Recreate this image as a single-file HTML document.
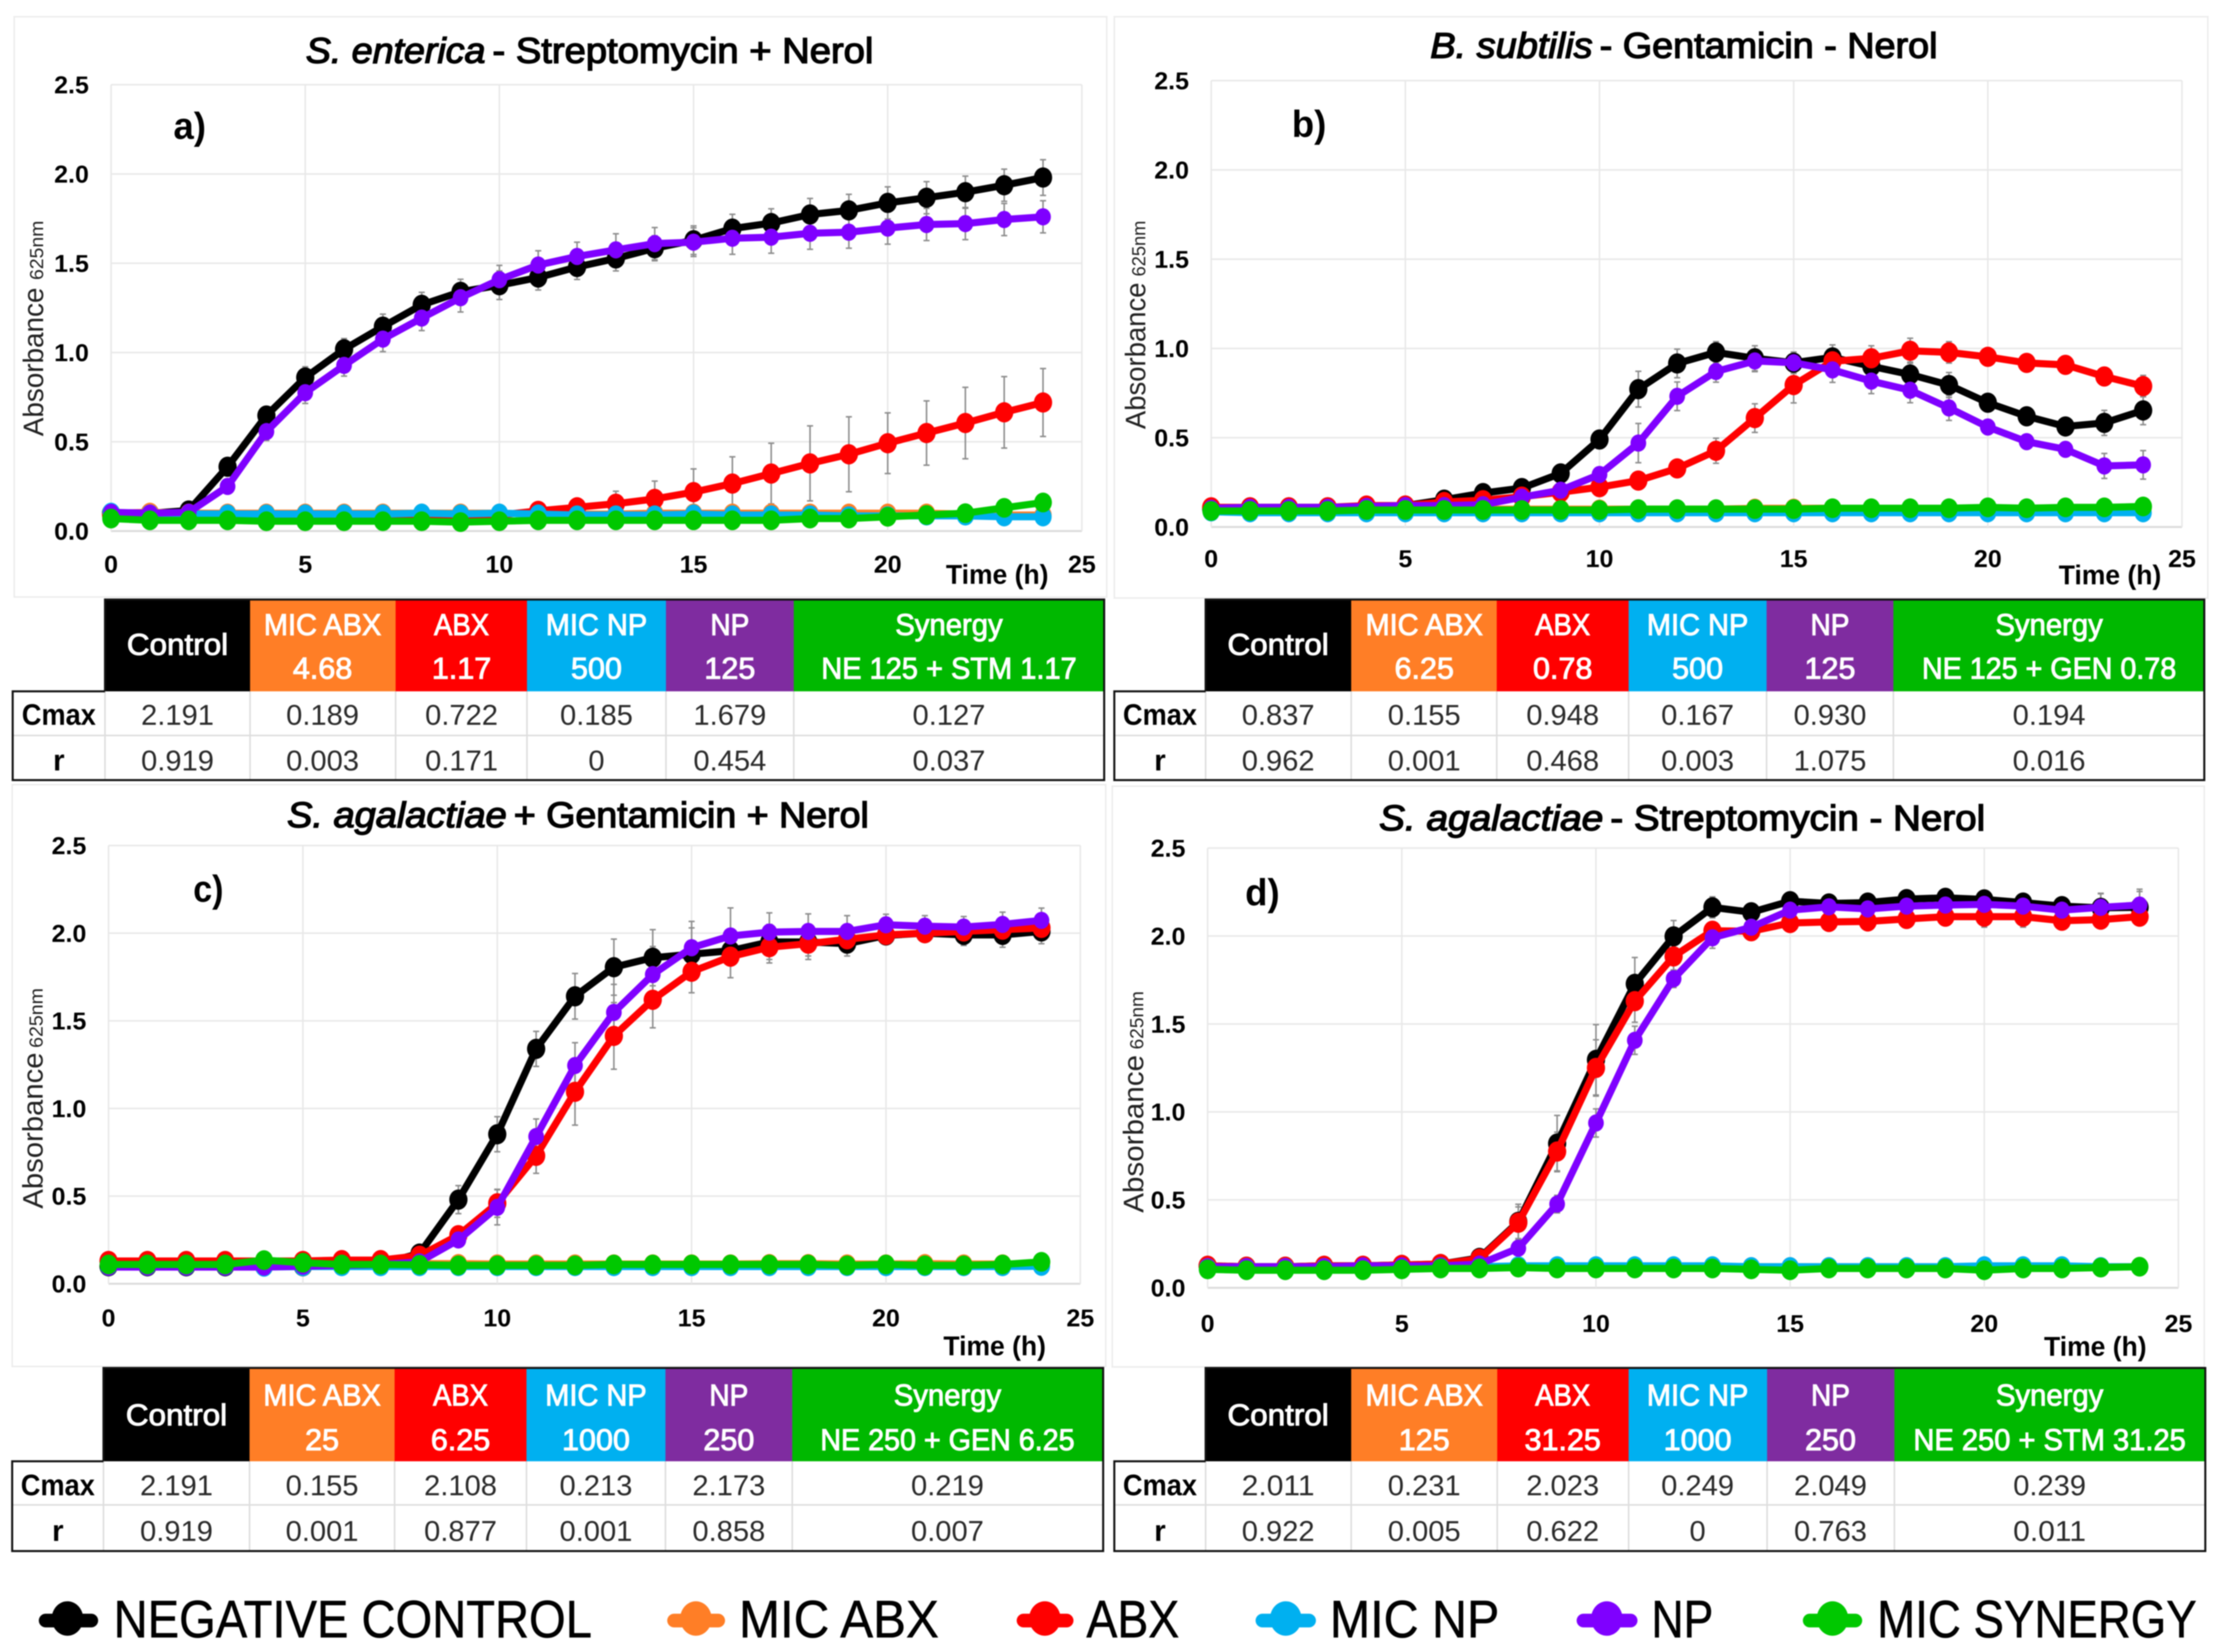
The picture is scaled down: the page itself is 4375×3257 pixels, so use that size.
<!DOCTYPE html>
<html lang="en">
<head>
<meta charset="utf-8">
<title>Growth curves with antibiotic and nerol synergy</title>
<style>
html,body{margin:0;padding:0;background:#fff;}
svg{display:block;filter:blur(1.1px);}
text{font-family:"Liberation Sans",sans-serif;}
.b{font-weight:bold;fill:#000;}
.t{fill:#000;stroke:#000;stroke-width:2.4;}
.i{font-style:italic;}
.h{fill:#fff;stroke:#fff;stroke-width:1.8;text-anchor:middle;}
.c{fill:#2a2a2a;text-anchor:middle;}
.l{fill:#000;stroke:#000;stroke-width:1;}
.y{fill:#222;}
</style>
</head>
<body>
<svg id="fig" xmlns="http://www.w3.org/2000/svg" width="4375" height="3257" viewBox="0 0 4375 3257">
<rect width="4375" height="3257" fill="#fff"/>

<!-- Panel frames -->
<rect x="28" y="33" width="2154" height="1144" fill="#fff" stroke="#ececec" stroke-width="3"/>
<rect x="2197" y="33" width="2156" height="1146" fill="#fff" stroke="#ececec" stroke-width="3"/>
<rect x="24" y="1547" width="2156" height="1147" fill="#fff" stroke="#ececec" stroke-width="3"/>
<rect x="2193" y="1550" width="2153" height="1145" fill="#fff" stroke="#ececec" stroke-width="3"/>

<g id="plots"></g>

<!-- Titles -->
<text class="t i cal" data-s="78" x="603" y="124" textLength="354">S. enterica</text>
<text class="t cal" data-s="78" x="971" y="124" textLength="751">- Streptomycin + Nerol</text>
<text class="t i cal" data-s="78" x="2820" y="114" textLength="320">B. subtilis</text>
<text class="t cal" data-s="78" x="3154" y="114" textLength="666">- Gentamicin - Nerol</text>
<text class="t i cal" data-s="78" x="566" y="1631" textLength="433">S. agalactiae</text>
<text class="t cal" data-s="78" x="1013" y="1631" textLength="700">+ Gentamicin + Nerol</text>
<text class="t i cal" data-s="78" x="2719" y="1637" textLength="442">S. agalactiae</text>
<text class="t cal" data-s="78" x="3175" y="1637" textLength="739">- Streptomycin - Nerol</text>

<!-- Panel letters -->
<text class="b cal" data-s="82" x="342" y="274">a)</text>
<text class="b cal" data-s="82" x="2547" y="270">b)</text>
<text class="b cal" data-s="82" x="381" y="1778">c)</text>
<text class="b cal" data-s="82" x="2455" y="1785">d)</text>

<!-- Axis titles -->
<text class="b cal" data-s="60" x="1865" y="1151">Time (h)</text>
<text class="b cal" data-s="60" x="4059" y="1152">Time (h)</text>
<text class="b cal" data-s="60" x="1860" y="2672">Time (h)</text>
<text class="b cal" data-s="60" x="4030" y="2673">Time (h)</text>

<text class="y" font-size="56" textLength="293" lengthAdjust="spacingAndGlyphs" transform="translate(85,860) rotate(-90)">Absorbance</text>
<text class="y" font-size="37" textLength="117" lengthAdjust="spacingAndGlyphs" transform="translate(85,552) rotate(-90)">625nm</text>
<text class="y" font-size="56" textLength="289" lengthAdjust="spacingAndGlyphs" transform="translate(2258,846) rotate(-90)">Absorbance</text>
<text class="y" font-size="37" textLength="110" lengthAdjust="spacingAndGlyphs" transform="translate(2258,545) rotate(-90)">625nm</text>
<text class="y" font-size="56" textLength="308" lengthAdjust="spacingAndGlyphs" transform="translate(84,2383) rotate(-90)">Absorbance</text>
<text class="y" font-size="37" textLength="118" lengthAdjust="spacingAndGlyphs" transform="translate(84,2066) rotate(-90)">625nm</text>
<text class="y" font-size="56" textLength="311" lengthAdjust="spacingAndGlyphs" transform="translate(2254,2391) rotate(-90)">Absorbance</text>
<text class="y" font-size="37" textLength="115" lengthAdjust="spacingAndGlyphs" transform="translate(2254,2069) rotate(-90)">625nm</text>

<!-- Table A -->
<g>
<rect x="207" y="1182" width="286" height="181" fill="#000"/>
<rect x="493" y="1182" width="287" height="181" fill="#FF7E26"/>
<rect x="780" y="1182" width="259" height="181" fill="#FF0000"/>
<rect x="1039" y="1182" width="274" height="181" fill="#00B0F0"/>
<rect x="1313" y="1182" width="252" height="181" fill="#7F2CA0"/>
<rect x="1565" y="1182" width="612" height="181" fill="#00B800"/>
<path d="M25 1450H2177M207 1363V1538M493 1363V1538M780 1363V1538M1039 1363V1538M1313 1363V1538M1565 1363V1538" stroke="#ddd" stroke-width="3" fill="none"/>
<path d="M207 1363V1182H2177V1538H25V1363H207" stroke="#111" stroke-width="4" fill="none"/>
<text class="h cal" data-s="66" x="350" y="1291">Control</text>
<text class="h cal" data-s="66" x="636" y="1252">MIC ABX</text>
<text class="h cal" data-s="66" x="636" y="1338">4.68</text>
<text class="h cal" data-s="66" x="910" y="1252">ABX</text>
<text class="h cal" data-s="66" x="910" y="1338">1.17</text>
<text class="h cal" data-s="66" x="1176" y="1252">MIC NP</text>
<text class="h cal" data-s="66" x="1176" y="1338">500</text>
<text class="h cal" data-s="66" x="1439" y="1252">NP</text>
<text class="h cal" data-s="66" x="1439" y="1338">125</text>
<text class="h cal" data-s="66" x="1871" y="1252">Synergy</text>
<text class="h cal" data-s="66" x="1871" y="1338">NE 125 + STM 1.17</text>
<text class="b cal" style="text-anchor:middle" data-s="65" x="116" y="1429">Cmax</text>
<text class="b cal" style="text-anchor:middle" data-s="65" x="116" y="1519">r</text>
<text class="c cal" data-s="63" x="350" y="1429">2.191</text>
<text class="c cal" data-s="63" x="636" y="1429">0.189</text>
<text class="c cal" data-s="63" x="910" y="1429">0.722</text>
<text class="c cal" data-s="63" x="1176" y="1429">0.185</text>
<text class="c cal" data-s="63" x="1439" y="1429">1.679</text>
<text class="c cal" data-s="63" x="1871" y="1429">0.127</text>
<text class="c cal" data-s="63" x="350" y="1519">0.919</text>
<text class="c cal" data-s="63" x="636" y="1519">0.003</text>
<text class="c cal" data-s="63" x="910" y="1519">0.171</text>
<text class="c cal" data-s="63" x="1176" y="1519">0</text>
<text class="c cal" data-s="63" x="1439" y="1519">0.454</text>
<text class="c cal" data-s="63" x="1871" y="1519">0.037</text>
</g>

<!-- Table B -->
<g>
<rect x="2377" y="1182" width="287" height="181" fill="#000"/>
<rect x="2664" y="1182" width="287" height="181" fill="#FF7E26"/>
<rect x="2951" y="1182" width="260" height="181" fill="#FF0000"/>
<rect x="3211" y="1182" width="272" height="181" fill="#00B0F0"/>
<rect x="3483" y="1182" width="250" height="181" fill="#7F2CA0"/>
<rect x="3733" y="1182" width="613" height="181" fill="#00B800"/>
<path d="M2197 1450H4346M2377 1363V1538M2664 1363V1538M2951 1363V1538M3211 1363V1538M3483 1363V1538M3733 1363V1538" stroke="#ddd" stroke-width="3" fill="none"/>
<path d="M2377 1363V1182H4346V1538H2197V1363H2377" stroke="#111" stroke-width="4" fill="none"/>
<text class="h cal" data-s="66" x="2520" y="1291">Control</text>
<text class="h cal" data-s="66" x="2808" y="1252">MIC ABX</text>
<text class="h cal" data-s="66" x="2808" y="1338">6.25</text>
<text class="h cal" data-s="66" x="3081" y="1252">ABX</text>
<text class="h cal" data-s="66" x="3081" y="1338">0.78</text>
<text class="h cal" data-s="66" x="3347" y="1252">MIC NP</text>
<text class="h cal" data-s="66" x="3347" y="1338">500</text>
<text class="h cal" data-s="66" x="3608" y="1252">NP</text>
<text class="h cal" data-s="66" x="3608" y="1338">125</text>
<text class="h cal" data-s="66" x="4040" y="1252">Synergy</text>
<text class="h cal" data-s="66" x="4040" y="1338">NE 125 + GEN 0.78</text>
<text class="b cal" style="text-anchor:middle" data-s="65" x="2287" y="1429">Cmax</text>
<text class="b cal" style="text-anchor:middle" data-s="65" x="2287" y="1519">r</text>
<text class="c cal" data-s="63" x="2520" y="1429">0.837</text>
<text class="c cal" data-s="63" x="2808" y="1429">0.155</text>
<text class="c cal" data-s="63" x="3081" y="1429">0.948</text>
<text class="c cal" data-s="63" x="3347" y="1429">0.167</text>
<text class="c cal" data-s="63" x="3608" y="1429">0.930</text>
<text class="c cal" data-s="63" x="4040" y="1429">0.194</text>
<text class="c cal" data-s="63" x="2520" y="1519">0.962</text>
<text class="c cal" data-s="63" x="2808" y="1519">0.001</text>
<text class="c cal" data-s="63" x="3081" y="1519">0.468</text>
<text class="c cal" data-s="63" x="3347" y="1519">0.003</text>
<text class="c cal" data-s="63" x="3608" y="1519">1.075</text>
<text class="c cal" data-s="63" x="4040" y="1519">0.016</text>
</g>

<!-- Table C -->
<g>
<rect x="204" y="2697" width="288" height="184" fill="#000"/>
<rect x="492" y="2697" width="286" height="184" fill="#FF7E26"/>
<rect x="778" y="2697" width="260" height="184" fill="#FF0000"/>
<rect x="1038" y="2697" width="274" height="184" fill="#00B0F0"/>
<rect x="1312" y="2697" width="250" height="184" fill="#7F2CA0"/>
<rect x="1562" y="2697" width="613" height="184" fill="#00B800"/>
<path d="M24 2967H2175M204 2881V3058M492 2881V3058M778 2881V3058M1038 2881V3058M1312 2881V3058M1562 2881V3058" stroke="#ddd" stroke-width="3" fill="none"/>
<path d="M204 2881V2697H2175V3058H24V2881H204" stroke="#111" stroke-width="4" fill="none"/>
<text class="h cal" data-s="66" x="348" y="2810">Control</text>
<text class="h cal" data-s="66" x="635" y="2771">MIC ABX</text>
<text class="h cal" data-s="66" x="635" y="2859">25</text>
<text class="h cal" data-s="66" x="908" y="2771">ABX</text>
<text class="h cal" data-s="66" x="908" y="2859">6.25</text>
<text class="h cal" data-s="66" x="1175" y="2771">MIC NP</text>
<text class="h cal" data-s="66" x="1175" y="2859">1000</text>
<text class="h cal" data-s="66" x="1437" y="2771">NP</text>
<text class="h cal" data-s="66" x="1437" y="2859">250</text>
<text class="h cal" data-s="66" x="1868" y="2771">Synergy</text>
<text class="h cal" data-s="66" x="1868" y="2859">NE 250 + GEN 6.25</text>
<text class="b cal" style="text-anchor:middle" data-s="65" x="114" y="2948">Cmax</text>
<text class="b cal" style="text-anchor:middle" data-s="65" x="114" y="3038">r</text>
<text class="c cal" data-s="63" x="348" y="2948">2.191</text>
<text class="c cal" data-s="63" x="635" y="2948">0.155</text>
<text class="c cal" data-s="63" x="908" y="2948">2.108</text>
<text class="c cal" data-s="63" x="1175" y="2948">0.213</text>
<text class="c cal" data-s="63" x="1437" y="2948">2.173</text>
<text class="c cal" data-s="63" x="1868" y="2948">0.219</text>
<text class="c cal" data-s="63" x="348" y="3038">0.919</text>
<text class="c cal" data-s="63" x="635" y="3038">0.001</text>
<text class="c cal" data-s="63" x="908" y="3038">0.877</text>
<text class="c cal" data-s="63" x="1175" y="3038">0.001</text>
<text class="c cal" data-s="63" x="1437" y="3038">0.858</text>
<text class="c cal" data-s="63" x="1868" y="3038">0.007</text>
</g>

<!-- Table D -->
<g>
<rect x="2377" y="2697" width="287" height="184" fill="#000"/>
<rect x="2664" y="2697" width="288" height="184" fill="#FF7E26"/>
<rect x="2952" y="2697" width="259" height="184" fill="#FF0000"/>
<rect x="3211" y="2697" width="273" height="184" fill="#00B0F0"/>
<rect x="3484" y="2697" width="251" height="184" fill="#7F2CA0"/>
<rect x="3735" y="2697" width="613" height="184" fill="#00B800"/>
<path d="M2197 2967H4348M2377 2881V3058M2664 2881V3058M2952 2881V3058M3211 2881V3058M3484 2881V3058M3735 2881V3058" stroke="#ddd" stroke-width="3" fill="none"/>
<path d="M2377 2881V2697H4348V3058H2197V2881H2377" stroke="#111" stroke-width="4" fill="none"/>
<text class="h cal" data-s="66" x="2520" y="2810">Control</text>
<text class="h cal" data-s="66" x="2808" y="2771">MIC ABX</text>
<text class="h cal" data-s="66" x="2808" y="2859">125</text>
<text class="h cal" data-s="66" x="3081" y="2771">ABX</text>
<text class="h cal" data-s="66" x="3081" y="2859">31.25</text>
<text class="h cal" data-s="66" x="3347" y="2771">MIC NP</text>
<text class="h cal" data-s="66" x="3347" y="2859">1000</text>
<text class="h cal" data-s="66" x="3609" y="2771">NP</text>
<text class="h cal" data-s="66" x="3609" y="2859">250</text>
<text class="h cal" data-s="66" x="4041" y="2771">Synergy</text>
<text class="h cal" data-s="66" x="4041" y="2859">NE 250 + STM 31.25</text>
<text class="b cal" style="text-anchor:middle" data-s="65" x="2287" y="2948">Cmax</text>
<text class="b cal" style="text-anchor:middle" data-s="65" x="2287" y="3038">r</text>
<text class="c cal" data-s="63" x="2520" y="2948">2.011</text>
<text class="c cal" data-s="63" x="2808" y="2948">0.231</text>
<text class="c cal" data-s="63" x="3081" y="2948">2.023</text>
<text class="c cal" data-s="63" x="3347" y="2948">0.249</text>
<text class="c cal" data-s="63" x="3609" y="2948">2.049</text>
<text class="c cal" data-s="63" x="4041" y="2948">0.239</text>
<text class="c cal" data-s="63" x="2520" y="3038">0.922</text>
<text class="c cal" data-s="63" x="2808" y="3038">0.005</text>
<text class="c cal" data-s="63" x="3081" y="3038">0.622</text>
<text class="c cal" data-s="63" x="3347" y="3038">0</text>
<text class="c cal" data-s="63" x="3609" y="3038">0.763</text>
<text class="c cal" data-s="63" x="4041" y="3038">0.011</text>
</g>

<!-- Legend -->
<g>
<g>
<path d="M90 3195H180" stroke="#000" stroke-width="27" stroke-linecap="round"/>
<ellipse cx="133" cy="3191" rx="31" ry="34" fill="#000"/>
<text class="l cal" data-s="116" x="224" y="3228" textLength="943">NEGATIVE CONTROL</text>
</g>
<g>
<path d="M1329 3195H1416" stroke="#FF7E26" stroke-width="27" stroke-linecap="round"/>
<ellipse cx="1372" cy="3191" rx="31" ry="34" fill="#FF7E26"/>
<text class="l cal" data-s="116" x="1457" y="3228" textLength="394">MIC ABX</text>
</g>
<g>
<path d="M2018 3195H2103" stroke="#FF0000" stroke-width="27" stroke-linecap="round"/>
<ellipse cx="2060" cy="3191" rx="31" ry="34" fill="#FF0000"/>
<text class="l cal" data-s="116" x="2142" y="3228" textLength="183">ABX</text>
</g>
<g>
<path d="M2489 3195H2581" stroke="#00B0F0" stroke-width="27" stroke-linecap="round"/>
<ellipse cx="2535" cy="3191" rx="31" ry="34" fill="#00B0F0"/>
<text class="l cal" data-s="116" x="2622" y="3228" textLength="334">MIC NP</text>
</g>
<g>
<path d="M3122 3195H3215" stroke="#7F00FF" stroke-width="27" stroke-linecap="round"/>
<ellipse cx="3168" cy="3191" rx="31" ry="34" fill="#7F00FF"/>
<text class="l cal" data-s="116" x="3256" y="3228" textLength="122">NP</text>
</g>
<g>
<path d="M3568 3195H3658" stroke="#00C800" stroke-width="27" stroke-linecap="round"/>
<ellipse cx="3613" cy="3191" rx="31" ry="34" fill="#00C800"/>
<text class="l cal" data-s="116" x="3701" y="3228" textLength="630">MIC SYNERGY</text>
</g>
</g>
</svg>

<script>
// ---- Chart data ----
const hours = [0,1,2,3,4,5,6,7,8,9,10,11,12,13,14,15,16,17,18,19,20,21,22,23,24];
const xTickLabels = ["0","5","10","15","20","25"];
const xTickValues = [0,5,10,15,20,25];
const yTickLabels = ["0.0","0.5","1.0","1.5","2.0","2.5"];
const yTickValues = [0,0.5,1,1.5,2,2.5];

// Panel a
const aControl = [.10,.10,.115,.36,.647,.86,1.018,1.145,1.267,1.34,1.377,1.42,1.479,1.527,1.584,1.629,1.694,1.725,1.773,1.796,1.838,1.867,1.898,1.937,1.98];
const aMicAbx  = [.10,.105,.10,.10,.10,.10,.10,.10,.10,.10,.10,.095,.095,.095,.10,.10,.10,.10,.10,.10,.10,.10,.095,.09,.09];
const aAbx     = [.09,.09,.085,.08,.08,.08,.08,.08,.08,.085,.09,.113,.133,.153,.18,.218,.266,.322,.379,.43,.492,.549,.605,.665,.72];
const aMicNp   = [.105,.095,.095,.095,.095,.095,.095,.095,.10,.095,.10,.095,.09,.09,.09,.095,.09,.09,.09,.085,.085,.085,.085,.08,.08];
const aNp      = [.105,.10,.105,.25,.557,.775,.928,1.075,1.193,1.307,1.408,1.49,1.538,1.575,1.61,1.618,1.64,1.646,1.668,1.674,1.697,1.717,1.722,1.745,1.76];
const aSynergy = [.07,.06,.06,.06,.055,.055,.055,.055,.055,.05,.055,.06,.06,.06,.06,.06,.06,.06,.07,.07,.08,.09,.10,.13,.16];
const aControlErr = [0,0,.01,.03,.05,.06,.06,.07,.07,.07,.08,.07,.07,.07,.07,.08,.08,.08,.09,.09,.09,.09,.09,.09,.10];
const aAbxErr     = [0,0,0,0,0,0,0,0,0,0,.01,.02,.03,.07,.10,.13,.15,.17,.21,.21,.17,.18,.20,.20,.19];
const aNpErr      = [0,0,.01,.02,.05,.06,.06,.07,.07,.08,.08,.08,.08,.09,.09,.08,.09,.09,.09,.09,.09,.09,.09,.09,.09];

// Panel b
const bControl = [.10,.11,.11,.11,.115,.12,.153,.19,.218,.30,.49,.772,.916,.978,.945,.92,.95,.90,.854,.795,.696,.62,.563,.583,.653];
const bMicAbx  = [.10,.10,.10,.10,.10,.10,.10,.10,.10,.10,.10,.10,.10,.10,.105,.105,.105,.105,.105,.105,.105,.105,.105,.105,.105];
const bAbx     = [.11,.11,.11,.11,.12,.12,.14,.15,.17,.195,.223,.26,.328,.427,.61,.795,.928,.945,.987,.978,.953,.919,.908,.843,.789];
const bMicNp   = [.085,.08,.08,.08,.08,.08,.08,.08,.08,.08,.08,.08,.08,.08,.08,.08,.08,.08,.08,.08,.08,.08,.08,.08,.08];
const bNp      = [.105,.11,.11,.11,.115,.12,.12,.125,.167,.206,.294,.47,.732,.871,.93,.92,.88,.817,.766,.667,.56,.478,.435,.342,.348];
const bSynergy = [.09,.09,.09,.09,.095,.095,.095,.095,.095,.095,.095,.10,.10,.10,.10,.10,.105,.105,.105,.105,.11,.105,.11,.11,.115];
const bControlErr = [0,0,0,0,0,.01,.01,.01,.02,.03,.05,.10,.08,.06,.07,.06,.07,.07,.07,.07,.05,.04,.04,.07,.08];
const bAbxErr     = [0,0,0,0,0,0,.01,.01,.02,.03,.03,.04,.04,.07,.08,.10,.05,.07,.07,.06,.05,.03,.03,.05,.06];
const bNpErr      = [0,0,0,0,0,0,0,.01,.01,.02,.04,.11,.08,.06,.06,.05,.07,.07,.07,.07,.04,.03,.03,.07,.08];

// Panel c
const cControl = [.10,.10,.10,.10,.10,.10,.105,.115,.172,.48,.853,1.34,1.64,1.806,1.86,1.88,1.90,1.95,1.95,1.94,1.987,2.0,1.99,1.99,2.01];
const cMicAbx  = [.115,.115,.115,.115,.115,.115,.115,.115,.115,.115,.113,.113,.113,.113,.113,.113,.113,.115,.115,.113,.113,.115,.113,.113,.115];
const cAbx     = [.13,.13,.13,.13,.13,.13,.135,.135,.16,.277,.459,.73,1.095,1.414,1.62,1.78,1.866,1.92,1.94,1.965,1.99,2.0,2.01,2.02,2.03];
const cMicNp   = [.10,.10,.10,.10,.095,.098,.098,.098,.098,.098,.098,.098,.098,.098,.098,.098,.098,.098,.098,.098,.098,.098,.098,.098,.10];
const cNp      = [.095,.095,.095,.095,.095,.10,.105,.11,.125,.25,.436,.84,1.245,1.548,1.764,1.917,1.984,2.006,2.01,2.01,2.048,2.04,2.035,2.05,2.073];
const cSynergy = [.11,.11,.11,.11,.135,.12,.11,.11,.108,.105,.105,.105,.105,.11,.11,.11,.11,.11,.11,.105,.11,.105,.105,.11,.125];
const cControlErr = [0,0,0,0,0,0,0,0,.01,.08,.10,.10,.13,.16,.16,.15,.06,.10,.08,.07,.05,.05,.06,.07,.07];
const cAbxErr     = [0,0,0,0,0,0,0,0,.01,.03,.08,.10,.19,.19,.16,.12,.12,.09,.09,.07,.05,.05,.05,.05,.05];
const cNpErr      = [0,0,0,0,0,0,0,0,.01,.03,.10,.10,.13,.16,.16,.15,.16,.11,.10,.09,.06,.06,.06,.07,.07];

// Panel d
const dControl = [.125,.12,.12,.125,.125,.13,.135,.17,.375,.82,1.296,1.728,1.998,2.163,2.135,2.198,2.185,2.19,2.21,2.217,2.208,2.19,2.17,2.16,2.163];
const dMicAbx  = [.12,.12,.12,.12,.12,.12,.12,.12,.12,.12,.12,.12,.12,.12,.12,.12,.12,.12,.12,.12,.12,.12,.12,.12,.12];
const dAbx     = [.125,.12,.12,.125,.125,.13,.135,.165,.37,.775,1.25,1.63,1.884,2.03,2.027,2.074,2.08,2.083,2.097,2.11,2.11,2.11,2.087,2.093,2.11];
const dMicNp   = [.115,.115,.115,.115,.115,.115,.12,.12,.125,.125,.125,.125,.125,.125,.12,.12,.12,.12,.12,.12,.125,.125,.125,.12,.12];
const dNp      = [.12,.12,.12,.12,.125,.125,.125,.135,.225,.476,.937,1.407,1.757,1.99,2.05,2.147,2.166,2.154,2.17,2.176,2.18,2.17,2.147,2.163,2.176];
const dSynergy = [.105,.10,.10,.10,.10,.105,.11,.11,.115,.11,.11,.11,.11,.11,.105,.10,.11,.11,.11,.11,.10,.11,.11,.115,.12];
const dControlErr = [0,0,0,0,0,0,0,.01,.10,.16,.20,.15,.09,.06,.03,.03,.05,.05,.05,.05,.05,.05,.05,.08,.09];
const dAbxErr     = [0,0,0,0,0,0,0,.01,.09,.11,.16,.12,.08,.05,.05,.04,.05,.05,.05,.05,.06,.06,.05,.05,.05];
const dNpErr      = [0,0,0,0,0,0,0,.01,.03,.05,.08,.08,.05,.06,.03,.03,.05,.05,.05,.05,.05,.05,.04,.08,.09];

const seriesStyle = {
  control:{name:"control",color:"#000000",rx:18,ry:20},
  micAbx:{name:"mic-abx",color:"#FF7E26",rx:17,ry:19},
  abx:{name:"abx",color:"#FF0000",rx:18,ry:20},
  micNp:{name:"mic-np",color:"#00B0F0",rx:17,ry:19},
  np:{name:"np",color:"#7F00FF",rx:15.5,ry:17},
  synergy:{name:"synergy",color:"#00C800",rx:17.5,ry:19.5}
};

const panels = [
  {id:"a",left:219,right:2133,top:167,bottom:1047,xl:82,
   series:{control:aControl,micAbx:aMicAbx,abx:aAbx,micNp:aMicNp,np:aNp,synergy:aSynergy},
   errs:{control:aControlErr,abx:aAbxErr,np:aNpErr}},
  {id:"b",left:2388,right:4302,top:159,bottom:1039,xl:79,
   series:{control:bControl,micAbx:bMicAbx,abx:bAbx,micNp:bMicNp,np:bNp,synergy:bSynergy},
   errs:{control:bControlErr,abx:bAbxErr,np:bNpErr}},
  {id:"c",left:214,right:2130,top:1667,bottom:2531,xl:84,
   series:{control:cControl,micAbx:cMicAbx,abx:cAbx,micNp:cMicNp,np:cNp,synergy:cSynergy},
   errs:{control:cControlErr,abx:cAbxErr,np:cNpErr}},
  {id:"d",left:2381,right:4295,top:1672,bottom:2539,xl:87,
   series:{control:dControl,micAbx:dMicAbx,abx:dAbx,micNp:dMicNp,np:dNp,synergy:dSynergy},
   errs:{control:dControlErr,abx:dAbxErr,np:dNpErr}}
];

const NS = "http://www.w3.org/2000/svg";
const plots = document.getElementById("plots");
function mk(tag, parent){
  const el = document.createElementNS(NS, tag);
  parent.appendChild(el);
  return el;
}

function drawPanel(p){
  const xScale = function(v){ return p.left + (v/25)*(p.right-p.left); };
  const yScale = function(v){ return p.bottom - (v/2.5)*(p.bottom-p.top); };
  const g = mk("g", plots);
  
  

  yTickValues.forEach(function(v,i){
    const line = mk("line", g);
    
    
    line.setAttribute("x1", p.left); line.setAttribute("x2", p.right);
    line.setAttribute("y1", yScale(v)); line.setAttribute("y2", yScale(v));
    line.setAttribute("stroke", i===0 ? "#dcdcdc" : "#e8e8e8");
    line.setAttribute("stroke-width", i===0 ? 4 : 3);
    const t = mk("text", g);
    
    
    t.setAttribute("class", "b cal");
    t.setAttribute("data-s", "54");
    t.setAttribute("text-anchor", "middle");
    t.setAttribute("x", p.left-78);
    t.setAttribute("y", yScale(v)+17);
    t.textContent = yTickLabels[i];
  });

  xTickValues.forEach(function(v,i){
    const line = mk("line", g);
    
    
    line.setAttribute("x1", xScale(v)); line.setAttribute("x2", xScale(v));
    line.setAttribute("y1", p.top); line.setAttribute("y2", p.bottom);
    line.setAttribute("stroke", "#e8e8e8");
    line.setAttribute("stroke-width", 3);
    const t = mk("text", g);
    
    
    t.setAttribute("class", "b cal");
    t.setAttribute("data-s", "54");
    t.setAttribute("text-anchor", "middle");
    t.setAttribute("x", xScale(v));
    t.setAttribute("y", p.bottom+p.xl);
    t.textContent = xTickLabels[i];
  });

  Object.keys(p.errs).forEach(function(key){
    const vals = p.series[key];
    const errs = p.errs[key];
    hours.forEach(function(h,i){
      if(!errs[i]) return;
      const hi = yScale(vals[i]+errs[i]);
      const lo = yScale(vals[i]-errs[i]);
      const x = xScale(h);
      const bar = mk("path", g);
      
      
      bar.setAttribute("d", "M"+(x-6)+" "+hi+"H"+(x+6)+"M"+x+" "+hi+"V"+lo+"M"+(x-6)+" "+lo+"H"+(x+6));
      bar.setAttribute("stroke", "#8c8c8c");
      bar.setAttribute("stroke-width", 3);
      bar.setAttribute("fill", "none");
    });
  });

  ["control","micAbx","abx","micNp","np","synergy"].forEach(function(key){
    const st = seriesStyle[key];
    const vals = p.series[key];
    const pts = hours.map(function(h,i){ return xScale(h)+","+yScale(vals[i]); }).join(" ");
    const line = mk("polyline", g);
    
    
    line.setAttribute("points", pts);
    line.setAttribute("fill", "none");
    line.setAttribute("stroke", st.color);
    line.setAttribute("stroke-width", 14);
    line.setAttribute("stroke-linejoin", "round");
    hours.forEach(function(h,i){
      const dot = mk("ellipse", g);
      
      
      dot.setAttribute("cx", xScale(h));
      dot.setAttribute("cy", yScale(vals[i]));
      dot.setAttribute("rx", st.rx);
      dot.setAttribute("ry", st.ry);
      dot.setAttribute("fill", st.color);
    });
  });
}
panels.forEach(drawPanel);

// Advance widths of a narrow humanist face, used to fit Liberation text to the reference widths.
const advance = {"0":.507,"1":.507,"2":.507,"3":.507,"4":.507,"5":.507,"6":.507,"7":.507,"8":.507,"9":.507,
  ".":.252," ":.226,"+":.498,"-":.306,"(":.303,")":.303,
  A:.579,B:.544,C:.533,E:.488,G:.631,I:.252,L:.42,M:.855,N:.646,O:.662,P:.517,R:.543,S:.459,T:.487,V:.567,X:.519,Y:.487,
  a:.479,b:.525,c:.423,d:.525,e:.498,g:.471,h:.525,i:.229,l:.229,m:.799,n:.525,o:.527,p:.525,r:.349,s:.391,t:.335,u:.525,x:.433,y:.453};
document.querySelectorAll("text.cal").forEach(function(t){
  const s = parseFloat(t.getAttribute("data-s"));
  t.setAttribute("font-size", s*0.9);
  if(!t.hasAttribute("textLength")){
    let w = 0;
    for(const ch of t.textContent){ w += (advance[ch] || .5); }
    t.setAttribute("textLength", (w*s).toFixed(1));
  }
  t.setAttribute("lengthAdjust", "spacingAndGlyphs");
});
</script>
</body>
</html>
